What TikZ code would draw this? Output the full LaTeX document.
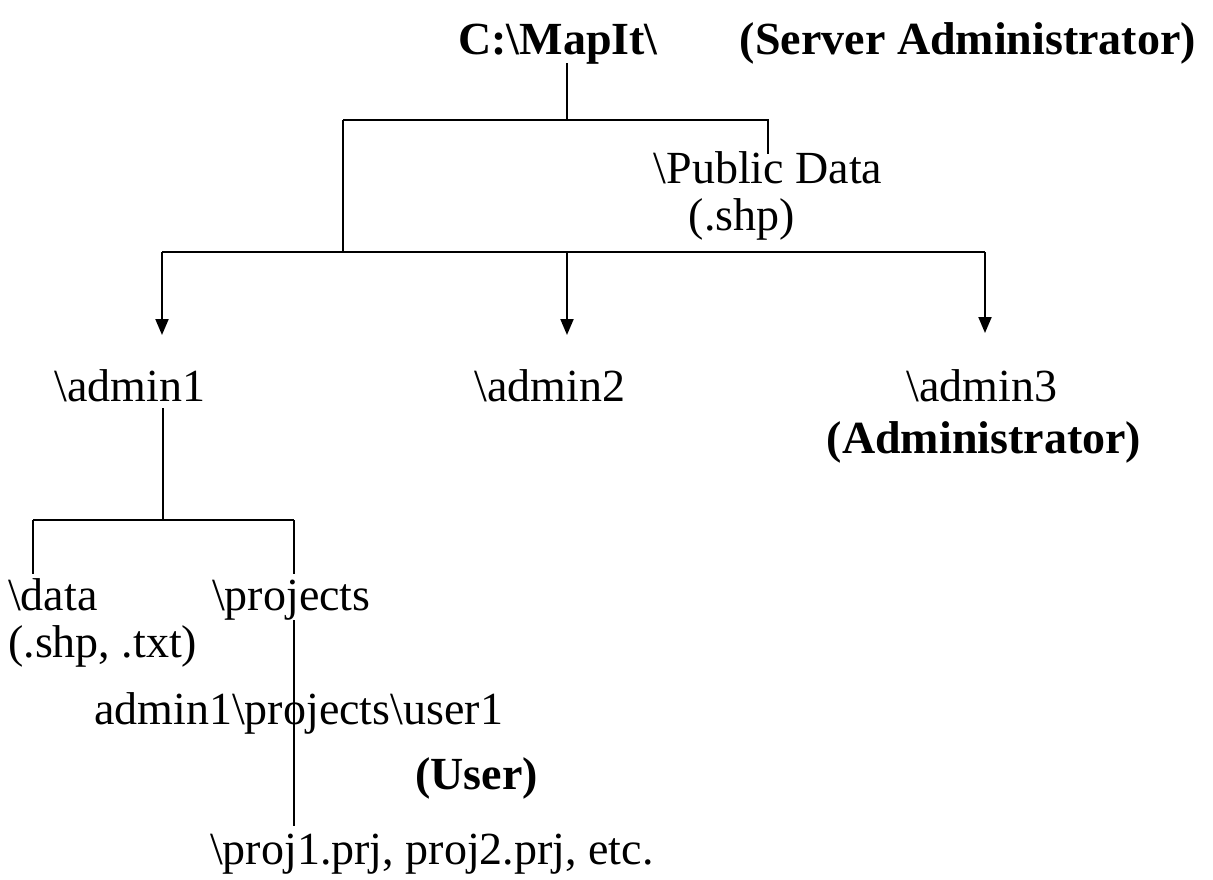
\documentclass[tikz,border=0pt]{standalone}
\usepackage{fontspec}
\setmainfont{Liberation Serif}
\usetikzlibrary{arrows.meta}
\begin{document}
\begin{tikzpicture}[x=1pt,y=-1pt,
  lbl/.style={font=\fontsize{46}{52}\selectfont, inner sep=0pt, anchor=base},
  blbl/.style={lbl, font=\fontsize{46}{52}\selectfont\bfseries},
  wire/.style={line width=2pt},
  arr/.style={wire, -{Triangle[length=16pt,width=13pt]}}]
\useasboundingbox (0,0) rectangle (1213,879);
% texts
\node[blbl] (root) at (558,54) {C:\textbackslash MapIt\textbackslash};
\node[blbl] (sadm) at (968,54) {(Server Administrator)};
\node[lbl] (pub) at (768,183) {\textbackslash Public Data};
\node[lbl] (shp) at (742,230) {(.shp)};
\node[lbl] (a1) at (130,401) {\textbackslash admin1};
\node[lbl] (a2) at (550,401) {\textbackslash admin2};
\node[lbl] (a3) at (982,401) {\textbackslash admin3};
\node[blbl] (adm) at (984,453) {(Administrator)};
\node[lbl, anchor=base west] (data) at (8,610) {\textbackslash data};
\node[lbl, anchor=base west] (dtyp) at (8,657) {(.shp, .txt)};
\node[lbl, anchor=base west] (proj) at (212,610) {\textbackslash projects};
\node[lbl, anchor=base west] (user) at (94,724) {admin1\textbackslash projects\textbackslash user1};
\node[blbl, anchor=base west] (usr) at (415,789) {(User)};
\node[lbl, anchor=base west] (files) at (210,864) {\textbackslash proj1.prj, proj2.prj, etc.};
% junctions
\coordinate (j0) at (567,120);
\coordinate (jl) at (343,120);
\coordinate (jr) at (768,120);
\coordinate (j1) at (343,252);
\coordinate (j1l) at (162,252);
\coordinate (j1m) at (567,252);
\coordinate (j1r) at (985,252);
\coordinate (j2) at (163,520);
\coordinate (j2l) at (33,520);
\coordinate (j2r) at (294,520);
% connectors
\draw[wire] (567,63) -- (j0);
\draw[wire] (jl) -- (jr) -- (768,154);
\draw[wire] (jl) -- (j1);
\draw[wire] (j1l) -- (j1r);
\draw[arr] (j1l) -- (162,335);
\draw[arr] (j1m) -- (567,335);
\draw[arr] (j1r) -- (985,333);
\draw[wire] (163,408) -- (j2);
\draw[wire] (j2l) -- (j2r);
\draw[wire] (j2l) -- (33,574);
\draw[wire] (j2r) -- (294,574);
\draw[wire] (294,620) -- (294,826);
\end{tikzpicture}
\end{document}
